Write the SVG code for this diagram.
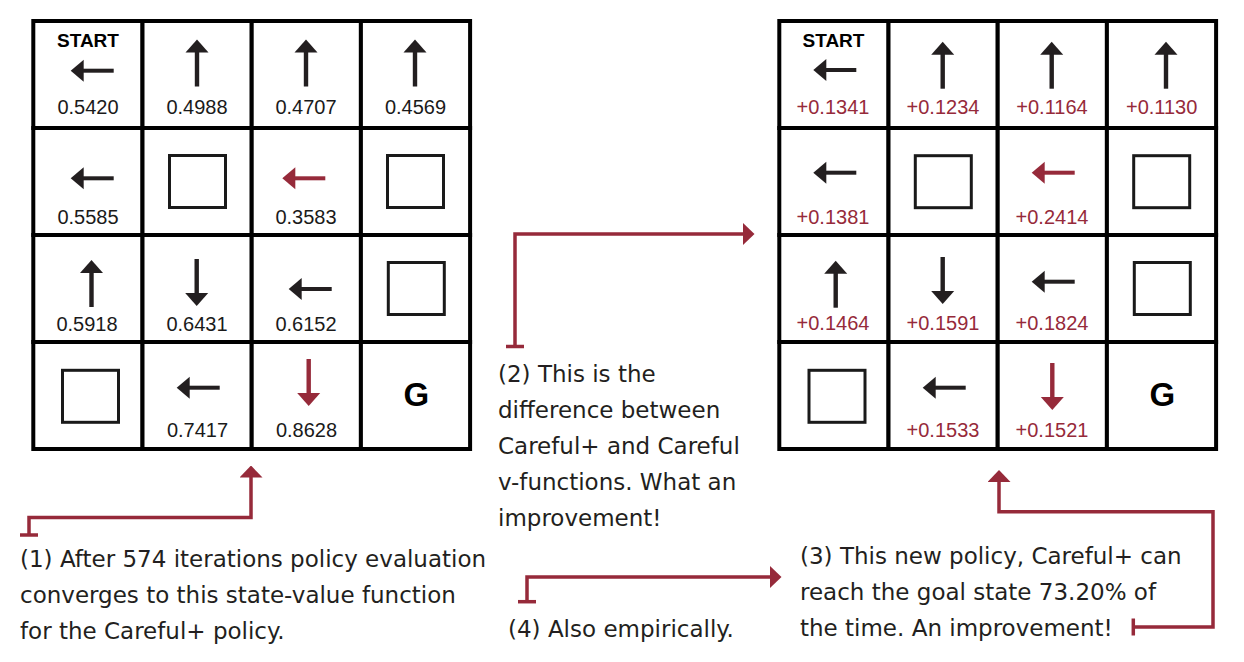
<svg xmlns="http://www.w3.org/2000/svg" xmlns:xlink="http://www.w3.org/1999/xlink" width="1244" height="662" viewBox="0 0 1244 662">
<style>
.cell{fill:#fff;stroke:#000;stroke-width:4}
.obs{fill:#fff;stroke:#1a1a1a;stroke-width:3}
.num{font-family:"Liberation Sans",Arial,sans-serif;font-size:20px;fill:#1a1a1a;text-anchor:middle}
.dnum{font-family:"Liberation Sans",Arial,sans-serif;font-size:20px;fill:#962a3a;text-anchor:middle}
.lbl{font-family:"Liberation Sans",Arial,sans-serif;font-weight:bold;fill:#000;text-anchor:middle}
.blk{fill:#231f20}
.red{fill:#962a3a}
.note{font-family:"DejaVu Sans",sans-serif;font-size:23px;fill:#231f20}
.conn{fill:none;stroke:#962a3a;stroke-width:3.5}
</style>
<defs>
<g id="aL"><path d="M0,0 L13,-11 L13,11 Z"/><rect x="12" y="-2" width="31" height="4"/></g>
<g id="aU"><path d="M0,0 L-11.5,13 L11.5,13 Z"/><rect x="-2.2" y="12" width="4.4" height="35"/></g>
<g id="aD"><path d="M0,0 L-11.5,-13 L11.5,-13 Z"/><rect x="-2.2" y="-47" width="4.4" height="35"/></g>
<marker id="rh" markerUnits="userSpaceOnUse" markerWidth="12" markerHeight="23" viewBox="0 0 12 23" refX="0.5" refY="11.5" orient="auto"><path d="M0,0 L12,11.5 L0,23 Z" fill="#962a3a"/></marker>
</defs>
<rect width="1244" height="662" fill="#fff"/>

<!-- Left grid -->
<g id="L00"><rect class="cell" x="33.3" y="21" width="109.2" height="107"/><text class="lbl" x="88" y="46.5" font-size="19">START</text><use href="#aL" class="blk" x="70.7" y="70.7"/><text class="num" x="88" y="114">0.5420</text></g>
<g id="L01"><rect class="cell" x="142.5" y="21" width="109.2" height="107"/><use href="#aU" class="blk" x="197" y="39.5"/><text class="num" x="197" y="114">0.4988</text></g>
<g id="L02"><rect class="cell" x="251.7" y="21" width="109.2" height="107"/><use href="#aU" class="blk" x="306" y="39.5"/><text class="num" x="306" y="114">0.4707</text></g>
<g id="L03"><rect class="cell" x="360.9" y="21" width="109.2" height="107"/><use href="#aU" class="blk" x="415" y="39.5"/><text class="num" x="415.5" y="114">0.4569</text></g>

<g id="L10"><rect class="cell" x="33.3" y="128" width="109.2" height="107"/><use href="#aL" class="blk" x="70.7" y="178.3"/><text class="num" x="88" y="224">0.5585</text></g>
<g id="L11"><rect class="cell" x="142.5" y="128" width="109.2" height="107"/><rect class="obs" x="169.5" y="155.5" width="56" height="52"/></g>
<g id="L12"><rect class="cell" x="251.7" y="128" width="109.2" height="107"/><use href="#aL" class="red" x="282.3" y="178.3"/><text class="num" x="306" y="224">0.3583</text></g>
<g id="L13"><rect class="cell" x="360.9" y="128" width="109.2" height="107"/><rect class="obs" x="387.5" y="155.5" width="56" height="52"/></g>

<g id="L20"><rect class="cell" x="33.3" y="235" width="109.2" height="107"/><use href="#aU" class="blk" x="91.5" y="260"/><text class="num" x="87" y="331">0.5918</text></g>
<g id="L21"><rect class="cell" x="142.5" y="235" width="109.2" height="107"/><use href="#aD" class="blk" x="196.7" y="306"/><text class="num" x="197" y="331">0.6431</text></g>
<g id="L22"><rect class="cell" x="251.7" y="235" width="109.2" height="107"/><use href="#aL" class="blk" x="288.7" y="289"/><text class="num" x="306" y="331">0.6152</text></g>
<g id="L23"><rect class="cell" x="360.9" y="235" width="109.2" height="107"/><rect class="obs" x="388.3" y="262.5" width="56" height="52"/></g>

<g id="L30"><rect class="cell" x="33.3" y="342" width="109.2" height="107"/><rect class="obs" x="62.5" y="370.3" width="56" height="52"/></g>
<g id="L31"><rect class="cell" x="142.5" y="342" width="109.2" height="107"/><use href="#aL" class="blk" x="176.7" y="387.7"/><text class="num" x="197.5" y="437">0.7417</text></g>
<g id="L32"><rect class="cell" x="251.7" y="342" width="109.2" height="107"/><use href="#aD" class="red" x="308.7" y="406"/><text class="num" x="306.5" y="437">0.8628</text></g>
<g id="L33"><rect class="cell" x="360.9" y="342" width="109.2" height="107"/><text class="lbl" x="416.3" y="406" font-size="33">G</text></g>

<!-- Right grid -->
<g id="R00"><rect class="cell" x="779.3" y="21" width="109.2" height="107"/><text class="lbl" x="833.5" y="46.5" font-size="19">START</text><use href="#aL" class="blk" x="813.3" y="70"/><text class="dnum" x="833" y="114">+0.1341</text></g>
<g id="R01"><rect class="cell" x="888.5" y="21" width="109.2" height="107"/><use href="#aU" class="blk" x="942.7" y="41.7"/><text class="dnum" x="943" y="114">+0.1234</text></g>
<g id="R02"><rect class="cell" x="997.7" y="21" width="109.2" height="107"/><use href="#aU" class="blk" x="1051.7" y="41.7"/><text class="dnum" x="1052" y="114">+0.1164</text></g>
<g id="R03"><rect class="cell" x="1106.9" y="21" width="109.2" height="107"/><use href="#aU" class="blk" x="1166" y="41.7"/><text class="dnum" x="1161.7" y="114">+0.1130</text></g>

<g id="R10"><rect class="cell" x="779.3" y="128" width="109.2" height="107"/><use href="#aL" class="blk" x="813.3" y="172.7"/><text class="dnum" x="833" y="224">+0.1381</text></g>
<g id="R11"><rect class="cell" x="888.5" y="128" width="109.2" height="107"/><rect class="obs" x="915.3" y="155.7" width="56" height="52"/></g>
<g id="R12"><rect class="cell" x="997.7" y="128" width="109.2" height="107"/><use href="#aL" class="red" x="1031.7" y="172.7"/><text class="dnum" x="1052" y="224">+0.2414</text></g>
<g id="R13"><rect class="cell" x="1106.9" y="128" width="109.2" height="107"/><rect class="obs" x="1133.7" y="155.7" width="56" height="52"/></g>

<g id="R20"><rect class="cell" x="779.3" y="235" width="109.2" height="107"/><use href="#aU" class="blk" x="835.7" y="260.7"/><text class="dnum" x="833" y="330">+0.1464</text></g>
<g id="R21"><rect class="cell" x="888.5" y="235" width="109.2" height="107"/><use href="#aD" class="blk" x="942.7" y="304"/><text class="dnum" x="943" y="330">+0.1591</text></g>
<g id="R22"><rect class="cell" x="997.7" y="235" width="109.2" height="107"/><use href="#aL" class="blk" x="1031.7" y="281.7"/><text class="dnum" x="1052" y="330">+0.1824</text></g>
<g id="R23"><rect class="cell" x="1106.9" y="235" width="109.2" height="107"/><rect class="obs" x="1134.3" y="262.5" width="56" height="52"/></g>

<g id="R30"><rect class="cell" x="779.3" y="342" width="109.2" height="107"/><rect class="obs" x="809" y="370.3" width="56" height="52"/></g>
<g id="R31"><rect class="cell" x="888.5" y="342" width="109.2" height="107"/><use href="#aL" class="blk" x="922.7" y="387.7"/><text class="dnum" x="943" y="437">+0.1533</text></g>
<g id="R32"><rect class="cell" x="997.7" y="342" width="109.2" height="107"/><use href="#aD" class="red" x="1052.3" y="410"/><text class="dnum" x="1052" y="437">+0.1521</text></g>
<g id="R33"><rect class="cell" x="1106.9" y="342" width="109.2" height="107"/><text class="lbl" x="1162.3" y="406" font-size="33">G</text></g>

<!-- Annotations -->
<g id="note1"><text class="note" x="20" y="567">(1) After 574 iterations policy evaluation</text><text class="note" x="20" y="603">converges to this state-value function</text><text class="note" x="20" y="639">for the Careful+ policy.</text></g>
<g id="note2"><text class="note" x="498" y="382">(2) This is the</text><text class="note" x="498" y="418">difference between</text><text class="note" x="498" y="454">Careful+ and Careful</text><text class="note" x="498" y="490">v-functions. What an</text><text class="note" x="498" y="526">improvement!</text></g>
<g id="note3"><text class="note" x="800" y="564">(3) This new policy, Careful+ can</text><text class="note" x="800" y="600">reach the goal state 73.20% of</text><text class="note" x="800" y="636">the time. An improvement!</text></g>
<g id="note4"><text class="note" x="508" y="637">(4) Also empirically.</text></g>

<!-- Connectors -->
<g id="connectors">
<path class="conn" d="M20,535 H38"/>
<path class="conn" d="M29,535 V517.5 H251 V477" marker-end="url(#rh)"/>
<path class="conn" d="M506,346.5 H524"/>
<path class="conn" d="M515,346.5 V234 H743" marker-end="url(#rh)"/>
<path class="conn" d="M1133.3,618.5 V635.5"/>
<path class="conn" d="M1133.3,627 H1213 V511.7 H999 V481.5" marker-end="url(#rh)"/>
<path class="conn" d="M518,601.7 H536"/>
<path class="conn" d="M527,601.7 V577 H770" marker-end="url(#rh)"/>
</g>
</svg>
